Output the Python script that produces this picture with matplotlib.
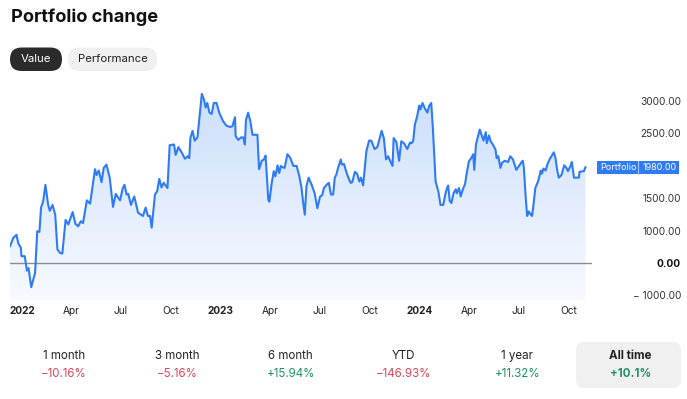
import numpy as np
import pandas as pd
import matplotlib
matplotlib.use("Agg")
import matplotlib.pyplot as plt
from matplotlib.patches import FancyBboxPatch, Rectangle

plt.rcParams["font.family"] = ["Inter", "DejaVu Sans"]

# data -------------------------------------------------------------------
start = pd.Timestamp("2022-01-01")
day_offsets = [-22, -16, -10, -7, -2, -1, 5, 9, 12, 17, 24, 28, 32, 35, 39, 43, 48, 51, 56, 61,
               65, 70, 74, 80, 85, 93, 98, 103, 108, 112, 119, 125, 129, 134, 137, 141, 146, 150,
               155, 161, 167, 172, 180, 185, 188, 192, 195, 200, 206, 213, 220, 222, 227, 231,
               235, 238, 244, 248, 252, 256, 260, 267, 271, 279, 282, 287, 293, 299, 304, 307,
               309, 313, 317, 322, 330, 334, 337, 340, 344, 348, 352, 357, 362, 369, 375, 382,
               386, 391, 392, 397, 402, 406, 409, 411, 415, 419, 423, 432, 435, 440, 444, 447,
               452, 454, 458, 462, 465, 469, 472, 475, 478, 482, 487, 492, 498, 504, 509, 513,
               516, 519, 522, 526, 532, 537, 542, 547, 551, 554, 559, 563, 567, 571, 574, 577,
               580, 585, 587, 591, 594, 598, 603, 606, 611, 615, 619, 622, 626, 632, 637, 641,
               647, 652, 660, 664, 668, 672, 676, 680, 682, 687, 692, 696, 701, 707, 712, 715,
               718, 721, 725, 729, 731, 735, 739, 744, 747, 751, 754, 759, 764, 768, 773, 778,
               782, 785, 788, 792, 796, 798, 802, 805, 809, 813, 816, 820, 825, 828, 830, 833,
               836, 840, 844, 847, 851, 853, 857, 860, 864, 869, 871, 874, 878, 881, 886, 889,
               892, 896, 901, 907, 912, 917, 919, 921, 924, 927, 930, 933, 936, 939, 942, 946,
               948, 952, 954, 957, 961, 964, 968, 973, 976, 979, 982, 985, 990, 995, 999, 1002,
               1007, 1009, 1013, 1022, 1023, 1031, 1034]
portfolio = [520, 780, 880, 620, 470, 210, 210, -240, -160, -760, -310, 990, 970, 1360, 1460,
             1710, 1400, 1310, 1400, 1250, 420, 310, 290, 1170, 1100, 1290, 1110, 1070, 1150,
             1120, 1470, 1420, 1660, 1950, 1860, 1930, 1750, 1970, 2020, 1820, 1370, 1570, 1470,
             1660, 1710, 1560, 1570, 1400, 1530, 1280, 1240, 1230, 1360, 1230, 1230, 1050, 1560,
             1610, 1800, 1670, 1740, 1660, 2320, 2330, 2170, 2290, 2210, 2110, 2150, 2120, 2430,
             2540, 2390, 2440, 3110, 3020, 2900, 2970, 2820, 2800, 2970, 2970, 2820, 2690, 2620,
             2600, 2610, 2750, 2460, 2400, 2440, 2440, 2330, 2710, 2820, 2690, 2480, 2480, 1950,
             2080, 2100, 2160, 1480, 1450, 1720, 1920, 1840, 2010, 1890, 2000, 1980, 1970, 2180,
             2130, 2000, 2000, 1840, 1660, 1430, 1250, 1690, 1820, 1700, 1580, 1350, 1530, 1550,
             1660, 1710, 1740, 1560, 1560, 1820, 1870, 1970, 2100, 2020, 2030, 1940, 1840, 1740,
             1750, 1910, 1880, 1760, 1820, 1700, 2230, 2390, 2390, 2260, 2290, 2540, 2430, 2100,
             2150, 2070, 2000, 2430, 2370, 2080, 2380, 2350, 2260, 2360, 2350, 2390, 2640, 2760,
             2930, 2870, 2970, 2890, 2820, 2920, 2970, 2580, 1760, 1610, 1400, 1400, 1610, 1700,
             1460, 1430, 1580, 1640, 1580, 1660, 1530, 1640, 1720, 1880, 2070, 2130, 2180, 1940,
             2330, 2430, 2560, 2460, 2390, 2520, 2350, 2470, 2380, 2330, 2250, 2120, 2150, 1970,
             2050, 2080, 2070, 2060, 2150, 2100, 1940, 2000, 2060, 2080, 1970, 1560, 1230, 1300,
             1260, 1230, 1430, 1660, 1740, 1790, 1930, 1880, 1960, 1930, 2020, 2100, 2170, 2210,
             2120, 1940, 1820, 1860, 2010, 1970, 1920, 2010, 2060, 1820, 1820, 1910, 1920, 1980]
last_value = 1980.00

# 2000.00 sits under the last-value label, so it is not shown
y_ticks = [-1000, 0, 1000, 1500, 2500, 3000]

periods = ["1 month", "3 month", "6 month", "YTD", "1 year", "All time"]
changes = [-10.16, -5.16, 15.94, -146.93, 11.32, 10.1]
change_labels = ["\u221210.16%", "\u22125.16%", "+15.94%", "\u2212146.93%", "+11.32%", "+10.1%"]

BLUE = "#2f7bf5"
RED = "#d9475a"
GREEN = "#23906c"

dates = start + pd.to_timedelta(day_offsets, unit="D")

W, H = 687, 399
fig = plt.figure(figsize=(W / 100, H / 100), dpi=100)
fig.patch.set_facecolor("white")

# overlay in pixel coordinates for header / footer
ov = fig.add_axes([0, 0, 1, 1], zorder=2)
ov.set_xlim(0, W)
ov.set_ylim(H, 0)
ov.axis("off")

ov.text(11, 22, "Portfolio change", fontsize=13.1, fontweight="bold", color="#111111",
        ha="left", va="baseline")
ov.add_patch(FancyBboxPatch((10, 47.5), 52, 23.5, boxstyle="round,pad=0,rounding_size=11.7",
                            fc="#2b2b2b", ec="none"))
ov.text(36, 59.5, "Value", fontsize=8.2, color="white", ha="center", va="center")
ov.add_patch(FancyBboxPatch((68, 47.5), 89, 23.5, boxstyle="round,pad=0,rounding_size=11.7",
                            fc="#eff0ef", ec="none"))
ov.text(112.5, 59.5, "Performance", fontsize=8.2, color="#222222", ha="center", va="center")

# footer
ov.add_patch(FancyBboxPatch((576, 342), 105, 46, boxstyle="round,pad=0,rounding_size=8",
                            fc="#eff0ef", ec="none"))
for i, (p, c, lab) in enumerate(zip(periods, changes, change_labels)):
    cx = 64 + i * 113.3
    last = i == len(periods) - 1
    ov.text(cx, 356, p, fontsize=8.3, color="#222222", ha="center", va="center",
            fontweight="bold" if last else "normal")
    ov.text(cx, 374, lab, fontsize=8.3, color=GREEN if c > 0 else RED, ha="center",
            va="center", fontweight="bold" if last else "normal")

# main chart
ax = fig.add_axes([10 / W, 1 - 300 / H, 582 / W, 212 / H], zorder=1)
ax.patch.set_alpha(0)


def fwd(v):
    v = np.asarray(v, dtype=float)
    return np.where(v <= 1000, v * 0.032, 32 + (v - 1000) * 0.065)


def inv(u):
    u = np.asarray(u, dtype=float)
    return np.where(u <= 32, u / 0.032, 1000 + (u - 32) / 0.065)


ax.set_yscale("function", functions=(fwd, inv))
ymin, ymax = -1160, 3200
ax.set_ylim(ymin, ymax)
ax.set_xlim(start + pd.Timedelta(days=-22), start + pd.Timedelta(days=1046))

fill = ax.fill_between(dates, portfolio, ymin, color="none", lw=0)
alpha = np.linspace(0.04, 0.25, 256)
grad = np.zeros((256, 1, 4))
grad[:, 0, 0] = 0.18
grad[:, 0, 1] = 0.48
grad[:, 0, 2] = 0.96
grad[:, 0, 3] = alpha
im = ax.imshow(grad, extent=[0, 1, 0, 1], transform=ax.transAxes, origin="lower",
               aspect="auto", zorder=1)
im.set_clip_path(fill.get_paths()[0], transform=ax.transData)

ax.axhline(0, color="#8c8c8c", lw=1.0, zorder=2)
ax.plot(dates, portfolio, color=BLUE, lw=1.5, zorder=3, solid_joinstyle="round")

for s in ax.spines.values():
    s.set_visible(False)

xt = pd.date_range("2022-01-01", "2024-10-01", freq="QS")
xl = [str(d.year) if d.month == 1 else d.strftime("%b") for d in xt]
ax.set_xticks(xt, xl)
for t, d in zip(ax.get_xticklabels(), xt):
    t.set_fontsize(7.3)
    t.set_color("#222222")
    if d.month == 1:
        t.set_fontweight("bold")
ax.tick_params(axis="x", length=0, pad=4)

ax.yaxis.tick_right()
ax.set_yticks(y_ticks, [f"\u2212 {abs(v):.2f}" if v < 0 else f"{v:.2f}" for v in y_ticks])
ax.tick_params(axis="y", length=0, pad=64)
for t, v in zip(ax.get_yticklabels(), y_ticks):
    t.set_ha("right")
    t.set_fontsize(7.3)
    t.set_color("#333333")
    if v == 0:
        t.set_fontweight("bold")
        t.set_color("#111111")

# last value label, placed at the pixel row of the last value
ly = H - ax.transData.transform((0, last_value))[1]
ov.add_patch(Rectangle((597, ly - 6.5), 82, 13, fc=BLUE, ec="none"))
ov.plot([637.5, 637.5], [ly - 6.5, ly + 6.5], color="#a9c8fb", lw=0.8)
ov.text(600, ly, "Portfolio", fontsize=6.5, color="white", ha="left", va="center")
ov.text(677, ly, f"{last_value:.2f}", fontsize=6.5, color="white", ha="right", va="center")

fig.savefig("out.png", dpi=100, facecolor="white")
